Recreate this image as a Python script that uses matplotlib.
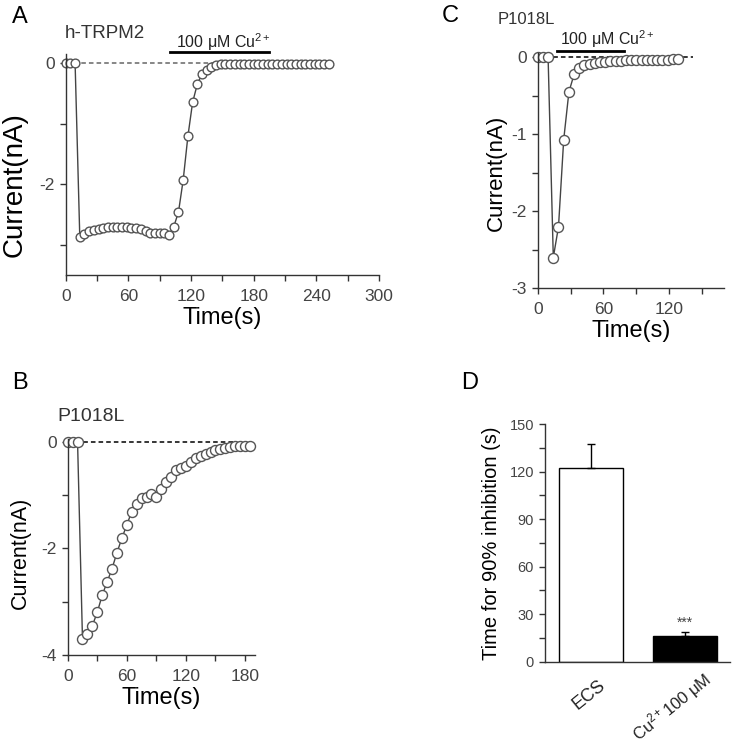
import numpy as np
import matplotlib
matplotlib.use("Agg")
import matplotlib.pyplot as plt
from matplotlib import transforms

plt.rcParams['font.family'] = ['Liberation Sans', 'DejaVu Sans']
plt.rcParams['mathtext.fontset'] = 'custom'
plt.rcParams['mathtext.rm'] = 'Liberation Sans'
plt.rcParams['mathtext.it'] = 'Liberation Sans:italic'
plt.rcParams['axes.unicode_minus'] = False

# ---- panel A: h-TRPM2 current, sampled every 4.5 s
a_dt = 4.5
a_cur = [0, 0, 0, -2.88, -2.83, -2.78, -2.75, -2.74, -2.72, -2.71, -2.70, -2.70,
         -2.71, -2.71, -2.72, -2.73, -2.74, -2.78, -2.80, -2.80, -2.80, -2.81, -2.84,
         -2.70, -2.46, -1.93, -1.21, -0.65, -0.35, -0.18, -0.11, -0.06, -0.03,
         -0.02, -0.02, -0.02, -0.02, -0.02, -0.02, -0.02, -0.02, -0.02, -0.02, -0.02,
         -0.02, -0.02, -0.02, -0.02, -0.02, -0.02, -0.02, -0.02, -0.02, -0.02, -0.02,
         -0.02, -0.02]
a_cu = (100, 195)

# ---- panel B: P1018L current, sampled every 5 s
b_dt = 5
b_cur = [0, 0, 0, -3.70, -3.60, -3.45, -3.20, -2.88, -2.63, -2.38, -2.08, -1.81,
         -1.56, -1.31, -1.16, -1.06, -1.03, -0.99, -1.03, -0.89, -0.75, -0.67, -0.54,
         -0.50, -0.46, -0.38, -0.31, -0.27, -0.24, -0.19, -0.16, -0.13, -0.11, -0.10,
         -0.09, -0.09, -0.08, -0.08]

# ---- panel C: P1018L with Cu, sampled every 4.75 s
c_dt = 4.75
c_cur = [0, 0, 0, -2.60, -2.20, -1.07, -0.45, -0.22, -0.14, -0.10, -0.08, -0.07,
         -0.06, -0.06, -0.05, -0.05, -0.05, -0.04, -0.04, -0.04, -0.04, -0.04, -0.03,
         -0.03, -0.03, -0.03, -0.02, -0.02]
c_cu = (18, 79)

# ---- panel D: time for 90% inhibition
d_labels = ['ECS', 'Cu$^{2+}$100 μM']
d_means = [122.5, 16.0]
d_err = [15.0, 2.5]

W, H = 737, 746
fig = plt.figure(figsize=(W / 100, H / 100), dpi=100)


def px_axes(left, top, right, bottom):
    return fig.add_axes([left / W, 1 - bottom / H, (right - left) / W, (bottom - top) / H])


def ftext(x, y, s, **kw):
    fig.text(x / W, 1 - y / H, s, **kw)


def style(ax, labelsize=12.5):
    for s in ['top', 'right']:
        ax.spines[s].set_visible(False)
    for s in ['left', 'bottom']:
        ax.spines[s].set_color('#333333')
        ax.spines[s].set_linewidth(1.0)
    ax.tick_params(which='both', direction='out', length=4, width=1, color='#333333',
                   labelsize=labelsize, labelcolor='#444444')
    ax.tick_params(axis='x', pad=6)
    ax.tick_params(axis='y', pad=4)


def trace(ax, dt, cur, ms, dash_end, dash_color):
    t = np.arange(len(cur)) * dt
    ax.plot([0, dash_end], [0, 0], ls=(0, (3, 2)), color=dash_color, lw=1.1, zorder=1)
    ax.plot(t, cur, '-', color='#444444', lw=1.0, marker='o', ms=ms, mfc='white',
            mec='#555555', mew=1.0, zorder=2, clip_on=False)


# panel A
axA = px_axes(65.7, 54, 379, 275)
style(axA)
trace(axA, a_dt, a_cur, 6.3, 255, '#666666')
axA.set_xlim(0, 300)
axA.set_ylim(-3.5, 0.15)
axA.set_xticks(range(0, 301, 60))
axA.set_xticks(range(30, 300, 60), minor=True)
axA.set_yticks([0, -2])
axA.set_yticks([-1, -3], minor=True)
axA.set_xlabel('Time(s)', fontsize=17, labelpad=2)
axA.plot(a_cu, [0.18, 0.18], color='black', lw=2, clip_on=False)
axA.text(106, 0.35, '100 μM Cu$^{2+}$', fontsize=11.5, va='center', ha='left', color='#222222')
ftext(20, 17, 'A', fontsize=17, ha='center', va='center')
ftext(65, 33, 'h-TRPM2', fontsize=13.5, ha='left', va='center', color='#333333')
ftext(15, 185, 'Current(nA)', fontsize=20, rotation=90, ha='center', va='center')

# panel C
axC = px_axes(537.7, 53.5, 723.8, 288.3)
style(axC)
trace(axC, c_dt, c_cur, 7.2, 142, 'black')
axC.set_xlim(0, 170)
axC.set_ylim(-3, 0.05)
axC.set_xticks([0, 60, 120])
axC.set_xticks([30, 90, 150], minor=True)
axC.set_yticks([0, -1, -2, -3])
axC.set_yticks([-0.5, -1.5, -2.5], minor=True)
axC.set_xlabel('Time(s)', fontsize=17, labelpad=2)
axC.plot(c_cu, [0.087, 0.087], color='black', lw=2, clip_on=False)
axC.text(20, 0.24, '100 μM Cu$^{2+}$', fontsize=11.5, va='center', ha='left', color='#222222')
ftext(450, 16, 'C', fontsize=17, ha='center', va='center')
ftext(498, 20, 'P1018L', fontsize=12, ha='left', va='center', color='#333333')
ftext(496, 173, 'Current(nA)', fontsize=16, rotation=90, ha='center', va='center')

# panel B
axB = px_axes(67.7, 438.5, 254.9, 655)
style(axB)
trace(axB, b_dt, b_cur, 7.2, 168, 'black')
axB.set_xlim(0, 190)
axB.set_ylim(-4, 0.06)
axB.set_xticks([0, 60, 120, 180])
axB.set_xticks([30, 90, 150], minor=True)
axB.set_yticks([0, -2, -4])
axB.set_yticks([-1, -3], minor=True)
axB.set_xlabel('Time(s)', fontsize=17, labelpad=2)
ftext(20, 383, 'B', fontsize=17, ha='center', va='center')
ftext(57, 416, 'P1018L', fontsize=14, ha='left', va='center', color='#333333')
ftext(20, 553, 'Current(nA)', fontsize=15.5, rotation=90, ha='center', va='center')

# panel D
axD = px_axes(545, 424, 730, 661.7)
style(axD, labelsize=10.5)
xpos = np.arange(len(d_means))
axD.bar(xpos, d_means, width=0.688, color=['white', 'black'], edgecolor='black', lw=1.0, zorder=2)
axD.errorbar(xpos, d_means, yerr=[[0, 0], d_err], fmt='none', ecolor='black', elinewidth=1,
             capsize=3, capthick=1, zorder=3)
axD.text(1, d_means[1] + d_err[1] + 1.5, '***', ha='center', va='bottom', fontsize=10, color='#444444')
axD.set_xlim(-0.494, 1.484)
axD.set_ylim(0, 150)
axD.set_yticks(range(0, 151, 30))
axD.set_yticks(range(15, 150, 30), minor=True)
axD.set_xticks([])
xtrans = transforms.blended_transform_factory(axD.transData, axD.transAxes)
for x, lab, (dx, dy), fs in zip(xpos, d_labels, [(7, -15), (17, -6)], [13, 12]):
    off = transforms.ScaledTranslation(dx / 100, dy / 100, fig.dpi_scale_trans)
    axD.text(x, 0, lab, transform=xtrans + off, rotation=39, rotation_mode='anchor',
             ha='right', va='top', fontsize=fs, color='#222222')
axD.set_ylabel('Time for 90% inhibition (s)', fontsize=14.5, labelpad=6)
ftext(470, 383, 'D', fontsize=17, ha='center', va='center')

fig.savefig('out.png', dpi=100)
